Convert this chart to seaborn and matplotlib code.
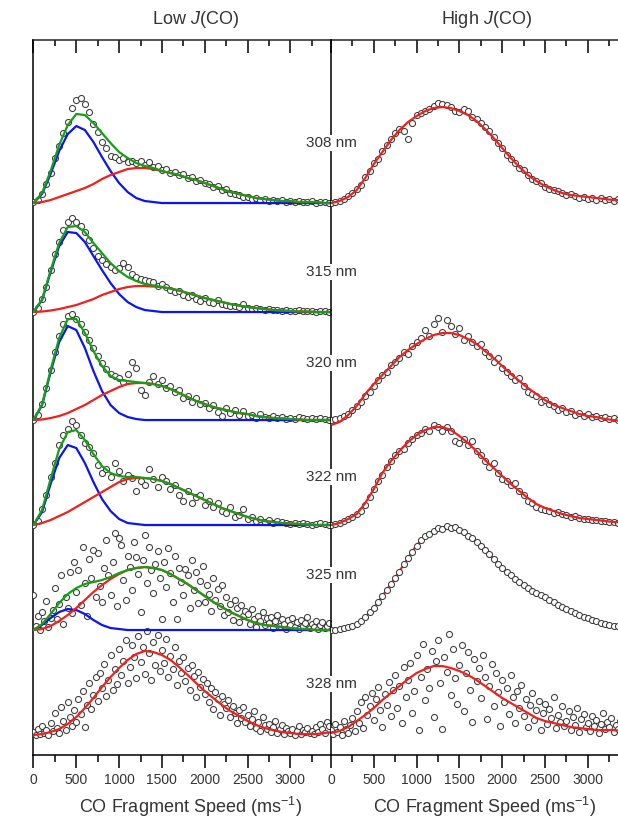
import numpy as np
import seaborn as sns
import matplotlib.pyplot as plt
import matplotlib.transforms as mtransforms
from matplotlib.ticker import MultipleLocator

# Speed distributions of CO fragments, stacked by photolysis wavelength
wavelengths = ['308 nm', '315 nm', '320 nm', '322 nm', '325 nm', '328 nm']
offsets = [552, 443, 335, 230, 125, 20]       # baseline of each trace
label_y = [612, 483, 392, 278, 180, 71]

fit_step = 100     # m/s between fit samples
dense_step = 50    # m/s between data points (clean traces)
noisy_step = 25    # m/s between data points (noisy traces)

# ---- Low J(CO): fits (blue = slow, red = fast, green = sum) ----
low_308_blue = [0, 9, 29, 52, 69, 77, 73, 61, 46, 32, 20, 11, 5, 2, 1, 0, 0, 0,
                0, 0, 0, 0, 0, 0, 0, 0, 0, 0, 0, 0, 0, 0, 0, 0, 0, 0]
low_308_red = [0, 1, 3, 6, 9, 12, 15, 19, 24, 28, 31, 34, 35, 35, 34, 32, 30, 28,
               25, 23, 20, 17, 14, 11, 9, 7, 5, 4, 3, 2, 2, 1, 1, 1, 0, 0]
low_315_blue = [0, 12, 40, 66, 80, 79, 70, 56, 42, 29, 18, 10, 5, 2, 1, 0, 0, 0,
                0, 0, 0, 0, 0, 0, 0, 0, 0, 0, 0, 0, 0, 0, 0, 0, 0, 0]
low_315_red = [0, 0.5, 1.5, 3, 5, 7, 10, 13, 17, 20, 23, 25, 26, 26, 25.5, 25, 23.5, 21.5,
               19, 16.5, 14, 12, 10, 8, 6.5, 5, 4, 3, 2, 1.5, 1, 0.5, 0.5, 0, 0, 0]
low_320_blue = [0, 15, 48, 78, 94, 90, 72, 49, 29, 15, 7, 3, 1, 0, 0, 0, 0, 0,
                0, 0, 0, 0, 0, 0, 0, 0, 0, 0, 0, 0, 0, 0, 0, 0, 0, 0]
low_320_red = [0, 0.5, 2, 4, 7, 11, 15, 20, 25, 29, 33, 36, 37, 37, 36, 34, 31, 27,
               23, 19, 16, 13, 11, 9, 7, 6, 4, 3, 2, 1.5, 1, 0.5, 0, 0, 0, 0]
low_322_blue = [0, 13, 41, 67, 80, 77, 62, 43, 26, 14, 6, 2, 1, 0, 0, 0, 0, 0,
                0, 0, 0, 0, 0, 0, 0, 0, 0, 0, 0, 0, 0, 0, 0, 0, 0, 0]
low_322_red = [0, 2, 5, 9, 13, 18, 23, 28, 33, 38, 43, 46, 47, 47, 46, 44, 41, 37,
               33, 29, 25, 21, 17, 14, 11, 8, 6, 4, 3, 2, 1.5, 1, 0.5, 0, 0, 0]
low_325_blue = [0, 5, 12, 18, 21, 20, 16, 10, 5, 2, 1, 0, 0, 0, 0, 0, 0, 0,
                0, 0, 0, 0, 0, 0, 0, 0, 0, 0, 0, 0, 0, 0, 0, 0, 0, 0]
low_325_red = [0, 1, 4, 9, 15, 22, 30, 38, 45, 51, 56, 60, 62, 63, 62, 60, 56, 51,
               46, 40, 34, 28, 23, 18, 14, 10, 7, 5, 4, 3, 2, 1, 1, 0, 0, 0]
low_328_red = [0, 1, 3, 6, 11, 18, 27, 37, 48, 58, 67, 75, 81, 84, 83, 80, 75, 68,
               60, 52, 44, 37, 30, 24, 19, 14, 10, 7, 5, 3, 2, 1, 1, 1, 2, 3]

# ---- Low J(CO): measured points ----
low_308_data = [1, 3, 9, 19, 30, 45, 57, 70, 81, 95, 103, 105, 99, 91, 79, 71, 61, 55,
                47, 46, 43, 45, 41, 42, 40, 42, 38, 41, 36, 37, 33, 34, 30, 31, 28, 29,
                25, 26, 22, 23, 20, 19, 16, 17, 13, 14, 10, 9, 8, 6, 6, 4, 5, 3, 4, 2,
                3, 2, 3, 1, 2, 1, 2, 1, 1, 2, 0, 1, 1, 0]
low_315_data = [0, 4, 13, 25, 42, 58, 70, 82, 90, 94, 90, 86, 80, 72, 64, 56, 52, 48,
                45, 42, 44, 49, 45, 38, 35, 33, 32, 31, 30, 26, 28, 25, 22, 20, 21, 17,
                15, 17, 13, 11, 14, 10, 9, 12, 8, 7, 6, 6, 5, 8, 4, 3, 4, 3, 2, 3,
                2, 2, 1, 2, 1, 1, 2, 1, 1, 1, 0, 1, 1, 0]
low_320_data = [0, 5, 16, 32, 50, 68, 84, 96, 104, 106, 101, 96, 88, 80, 72, 64, 57, 51,
                46, 44, 42, 38, 46, 58, 52, 30, 25, 38, 44, 36, 40, 32, 34, 28, 30, 22,
                24, 18, 22, 16, 17, 12, 15, 8, 4, 12, 7, 10, 5, 9, 4, 5, 2, 6, 3, 2,
                4, 2, 3, 1, 2, 1, 3, 2, 1, 2, 1, 2, 1, 0]
low_322_data = [0, 4, 16, 30, 48, 62, 80, 90, 96, 104, 100, 90, 82, 78, 72, 60, 52, 56,
                48, 62, 54, 44, 50, 47, 34, 44, 40, 56, 46, 38, 48, 44, 36, 40, 30, 24,
                34, 22, 28, 30, 20, 24, 18, 22, 14, 12, 18, 8, 10, 16, 6, 8, 4, 6, 3, 5,
                2, 4, 3, 2, 1, 2, 1, 2, 1, 0, 1, 2, 1, 0]
low_325_data = [35, 4, 14, 0, 18, 9, 29, 3, 12, 20,
                42, 11, 26, 55, 6, 33, 22, 58, 17, 68,
                38, 60, 25, 83, 47, 14, 71, 52, 80, 33,
                77, 44, 28, 62, 90, 55, 35, 68, 97, 24,
                92, 85, 50, 30, 74, 63, 40, 88, 73, 56,
                18, 70, 95, 47, 83, 60, 37, 66, 79, 52,
                11, 68, 43, 82, 57, 28, 74, 11, 62, 48,
                35, 61, 55, 22, 70, 40, 58, 27, 49, 64,
                28, 45, 36, 19, 52, 30, 41, 24, 45, 15,
                33, 18, 26, 10, 30, 22, 8, 25, 14, 19,
                16, 6, 21, 11, 3, 14, 9, 18, 5, 12,
                7, 13, 2, 9, 15, 4, 11, 6, 1, 10,
                5, 12, 3, 8, 1, 10, 4, 7, 13, 2,
                6, 3, 9, 1, 5, 8, 2, 4, 7]
low_328_data = [3, 0, 6, 1, 9, 2, 5, 0, 12, 4,
                22, 7, 2, 28, 14, 5, 33, 18, 9, 25,
                13, 36, 21, 44, 8, 30, 52, 26, 40, 58,
                34, 62, 47, 71, 39, 55, 80, 45, 66, 51,
                86, 60, 74, 95, 52, 68, 90, 78, 57, 99,
                73, 88, 61, 104, 82, 55, 93, 70, 100, 64,
                85, 72, 96, 58, 79, 66, 88, 50, 74, 62,
                78, 54, 67, 45, 70, 59, 38, 63, 48, 56,
                41, 52, 33, 47, 26, 43, 36, 20, 39, 31,
                27, 35, 18, 29, 22, 12, 25, 17, 28, 13,
                20, 9, 16, 24, 7, 13, 4, 18, 10, 6,
                11, 3, 8, 14, 2, 6, 10, 1, 7, 4,
                2, 6, 0, 4, 9, 1, 5, 3, 7, 2,
                4, 1, 8, 3, 11, 6, 2, 13, 9]

# ---- High J(CO): single-component fits ----
high_308_red = [0, 2, 6, 13, 25, 39, 51, 63, 73, 81, 87, 92, 95, 96, 95, 92, 88, 82,
                74, 65, 55, 45, 36, 28, 22, 17, 13, 10, 8, 7, 6, 5, 4, 3, 3, 2]
high_320_red = [-5, -2, 5, 14, 26, 36, 45, 54, 63, 70, 76, 81, 85, 87, 87, 85, 81, 76,
                69, 62, 54, 46, 39, 32, 26, 20, 15, 12, 9, 6, 4, 3, 1, 0, -1, -1]
high_322_red = [0, 2, 6, 11, 22, 36, 52, 64, 74, 83, 90, 95, 98, 98, 95, 89, 82, 74,
                65, 57, 49, 41, 34, 27, 21, 17, 14, 11, 9, 7, 6, 5, 4, 3, 3, 2]
high_325_red = [0, 1, 3, 6, 13, 22, 34, 46, 59, 72, 85, 93, 99, 102, 103, 100, 95, 88,
                80, 71, 62, 55, 48, 42, 37, 33, 28, 23, 19, 15, 12, 9, 6, 4, 3, 2]
high_328_red = [2, 4, 8, 14, 20, 27, 35, 42, 49, 56, 62, 66, 69, 69, 67, 64, 60, 55,
                49, 43, 37, 32, 27, 22, 17, 14, 12, 10, 8, 7, 6, 5, 5, 5, 4, 4]

# ---- High J(CO): measured points ----
high_308_data = [0, 1, 2, 4, 7, 10, 14, 18, 26, 32, 40, 44, 52, 58, 64, 70, 74, 72,
                 64, 80, 88, 90, 92, 94, 97, 100, 99, 98, 96, 92, 91, 94, 92, 86, 84, 80,
                 76, 72, 66, 60, 55, 48, 44, 40, 35, 33, 28, 24, 22, 20, 16, 14, 13, 12,
                 10, 8, 9, 7, 5, 6, 4, 5, 3, 5, 3, 4, 2, 4, 3, 2]
high_320_data = [0, 1, 2, 4, 6, 10, 14, 18, 24, 28, 34, 40, 45, 48, 55, 58, 62, 68,
                 66, 74, 78, 82, 90, 84, 96, 102, 88, 100, 94, 86, 92, 80, 84, 78, 74, 76,
                 68, 64, 58, 62, 52, 48, 44, 40, 42, 34, 28, 26, 24, 18, 20, 16, 14, 10,
                 12, 8, 9, 5, 7, 4, 6, 3, 4, 2, 3, 1, 2, 0, 1, 0]
high_322_data = [0, 1, 2, 4, 6, 8, 11, 14, 20, 28, 36, 44, 50, 58, 64, 70, 74, 76,
                 82, 86, 90, 92, 96, 94, 100, 98, 94, 98, 94, 84, 82, 86, 80, 84, 74, 70,
                 64, 58, 62, 52, 46, 44, 40, 42, 34, 30, 24, 22, 18, 16, 15, 14, 12, 13,
                 11, 10, 8, 9, 7, 6, 6, 5, 5, 4, 4, 3, 3, 2, 3, 2]
high_325_data = [0, 0, 1, 2, 3, 4, 6, 9, 13, 18, 22, 28, 34, 40, 46, 52, 58, 66,
                 72, 78, 84, 90, 94, 96, 99, 102, 101, 104, 102, 103, 100, 98, 94, 92, 88, 84,
                 80, 76, 71, 66, 62, 58, 55, 51, 48, 45, 42, 39, 37, 35, 33, 30, 28, 25,
                 23, 21, 19, 17, 15, 13, 12, 10, 9, 7, 6, 5, 4, 4, 3, 2]
high_328_data = [5, 1, 11, 3, 8, 0, 14, 6, 2, 10,
                 17, 4, 24, 12, 33, 7, 38, 20, 29, 42,
                 15, 36, 48, 25, 8, 41, 30, 53, 19, 45,
                 60, 27, 49, 12, 68, 38, 55, 72, 22, 44,
                 80, 5, 58, 91, 35, 66, 47, 84, 18, 74,
                 95, 52, 6, 78, 63, 101, 40, 86, 57, 31,
                 70, 90, 24, 62, 83, 45, 13, 76, 54, 67,
                 37, 80, 58, 16, 49, 71, 29, 62, 43, 9,
                 55, 33, 47, 21, 60, 38, 12, 44, 27, 50,
                 19, 36, 8, 30, 42, 15, 25, 34, 5, 22,
                 31, 11, 26, 17, 38, 7, 20, 13, 29, 9,
                 14, 24, 5, 18, 10, 27, 3, 16, 21, 8,
                 12, 4, 19, 9, 15, 2, 11, 22, 6, 13,
                 8, 17, 3, 10, 6, 14, 2, 9, 5]

blue = '#0a14f5'
red = '#f0201e'
green = '#14a014'
text_colour = '#333333'

sns.set_style('white')
plt.rcParams['font.family'] = ['Liberation Sans', 'DejaVu Sans']
plt.rcParams['mathtext.fontset'] = 'custom'
plt.rcParams['mathtext.rm'] = 'Liberation Sans'
plt.rcParams['mathtext.it'] = 'Liberation Sans:italic'
plt.rcParams['mathtext.sf'] = 'Liberation Sans'


def speeds(values, step):
    return np.arange(len(values)) * step


def draw_points(ax, values, step, offset):
    sns.scatterplot(x=speeds(values, step), y=np.asarray(values) + offset, ax=ax,
                    marker='o', s=19, color='white', edgecolor='#3a3a3a',
                    linewidth=0.75, zorder=3, legend=False)


def draw_fit(ax, values, colour, offset, z=4):
    sns.lineplot(x=speeds(values, fit_step), y=np.asarray(values) + offset, ax=ax,
                 color=colour, linewidth=1.6, zorder=z, errorbar=None, legend=False)


fig = plt.figure(figsize=(6.18, 8.34), dpi=100)
ax_low = fig.add_axes([0.0542, 0.0947, 0.4814, 0.8573])
ax_high = fig.add_axes([0.5356, 0.0947, 0.4814, 0.8573])
ax_high.patch.set_alpha(0)

# Low J(CO) panel
low_data = [low_308_data, low_315_data, low_320_data, low_322_data, low_325_data, low_328_data]
low_steps = [dense_step, dense_step, dense_step, dense_step, noisy_step, noisy_step]
low_blue = [low_308_blue, low_315_blue, low_320_blue, low_322_blue, low_325_blue, None]
low_red = [low_308_red, low_315_red, low_320_red, low_322_red, low_325_red, low_328_red]

for data, step, b, r, off in zip(low_data, low_steps, low_blue, low_red, offsets):
    draw_points(ax_low, data, step, off)
    if b is not None:
        draw_fit(ax_low, b, blue, off)
        draw_fit(ax_low, r, red, off)
        draw_fit(ax_low, np.add(b, r), green, off, z=5)
    else:
        draw_fit(ax_low, r, red, off)

# High J(CO) panel (no 315 nm trace)
high_data = [high_308_data, None, high_320_data, high_322_data, high_325_data, high_328_data]
high_steps = [dense_step, None, dense_step, dense_step, dense_step, noisy_step]
high_red = [high_308_red, None, high_320_red, high_322_red, high_325_red, high_328_red]

for data, step, r, off, wl in zip(high_data, high_steps, high_red, offsets, wavelengths):
    if data is None:
        continue
    draw_points(ax_high, data, step, off)
    draw_fit(ax_high, r, red, off, z=2 if wl == '325 nm' else 4)

# axes styling
for ax in (ax_low, ax_high):
    ax.set_xlim(0, 3475)
    ax.set_ylim(0, 715)
    ax.set_yticks([])
    ax.set_xlabel('')
    ax.set_ylabel('')
    ax.xaxis.set_major_locator(MultipleLocator(500))
    ax.xaxis.set_minor_locator(MultipleLocator(250))
    ax.tick_params(axis='x', which='both', direction='out', bottom=True, top=False,
                   color='black', width=1.1, labelsize=10, labelcolor=text_colour, pad=4)
    ax.tick_params(axis='x', which='major', length=9)
    ax.tick_params(axis='x', which='minor', length=5)
    for side in ('left', 'right', 'top', 'bottom'):
        ax.spines[side].set_color('black')
        ax.spines[side].set_linewidth(1.1)
    ax.spines['top'].set_visible(False)
    top = ax.secondary_xaxis('top')
    top.xaxis.set_major_locator(MultipleLocator(500))
    top.xaxis.set_minor_locator(MultipleLocator(250))
    top.tick_params(axis='x', which='both', direction='in', labeltop=False,
                    color='black', width=1.1)
    top.tick_params(axis='x', which='major', length=9)
    top.tick_params(axis='x', which='minor', length=4.5)
    top.spines['top'].set_linewidth(1.1)

ax_low.spines['right'].set_visible(False)

# wavelength labels sitting on the shared spine
trans = mtransforms.blended_transform_factory(ax_high.transAxes, ax_high.transData)
for wl, y in zip(wavelengths, label_y):
    ax_high.text(0, y, wl, transform=trans, ha='center', va='center', fontsize=11,
                 color=text_colour, zorder=6,
                 bbox=dict(facecolor='white', edgecolor='none', pad=0.6))

fig.text(195 / 618, 1 - 20 / 834, 'Low $\\mathit{J}$(CO)', ha='center', va='center',
         fontsize=13, color=text_colour)
fig.text(486 / 618, 1 - 20 / 834, 'High $\\mathit{J}$(CO)', ha='center', va='center',
         fontsize=13, color=text_colour)
fig.text(191 / 618, 1 - 807 / 834, 'CO Fragment Speed (ms$^{-1}$)', ha='center',
         va='center', fontsize=13, color=text_colour)
fig.text(485 / 618, 1 - 807 / 834, 'CO Fragment Speed (ms$^{-1}$)', ha='center',
         va='center', fontsize=13, color=text_colour)

fig.savefig('out.png', dpi=100)
